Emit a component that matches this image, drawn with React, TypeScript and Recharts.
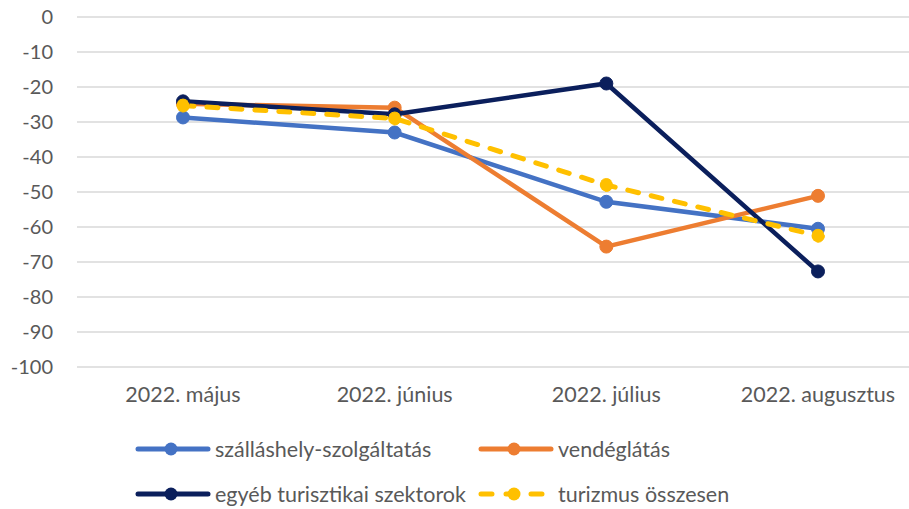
import { LineChart, Line, XAxis, YAxis, CartesianGrid } from 'recharts';

const months = ['2022. május', '2022. június', '2022. július', '2022. augusztus'];
const szallas = [-28.7, -33, -52.8, -60.5];
const vendeglatas = [-24.8, -25.9, -65.6, -51.1];
const egyeb = [-24.1, -27.8, -19, -72.7];
const turizmus = [-25.3, -29, -48, -62.5];
const yTicks = [0, -10, -20, -30, -40, -50, -60, -70, -80, -90, -100];

const series = [
  { key: 'szallas', name: 'szálláshely-szolgáltatás', color: '#4472C4', dashed: false },
  { key: 'vendeglatas', name: 'vendéglátás', color: '#ED7D31', dashed: false },
  { key: 'egyeb', name: 'egyéb turisztikai szektorok', color: '#0B1F5C', dashed: false },
  { key: 'turizmus', name: 'turizmus összesen', color: '#FFC000', dashed: true },
];

const data = months.map((month, i) => ({
  month,
  szallas: szallas[i],
  vendeglatas: vendeglatas[i],
  egyeb: egyeb[i],
  turizmus: turizmus[i],
}));

const FONT = 'Lato, sans-serif';
const TEXT = '#595959';

function LegendItem({ s, x, y }: { s: (typeof series)[number]; x: number; y: number }) {
  return (
    <div style={{ position: 'absolute', left: x, top: y - 14, height: 28, display: 'flex', alignItems: 'center' }}>
      <svg width={76} height={24} style={{ marginRight: 4 }}>
        <line
          x1={3}
          x2={73}
          y1={12}
          y2={12}
          stroke={s.color}
          strokeWidth={5}
          strokeLinecap="round"
          strokeDasharray={s.dashed ? '11 14' : undefined}
        />
        <circle cx={36} cy={12} r={6.5} fill={s.color} />
      </svg>
      <span style={{ fontFamily: FONT, fontSize: 21.5, color: TEXT, whiteSpace: 'nowrap' }}>{s.name}</span>
    </div>
  );
}

export default function App() {
  return (
    <div style={{ position: 'absolute', left: 0, top: 0, width: 909, height: 509, overflow: 'hidden', background: '#fff' }}>
      <LineChart width={930} height={509} data={data} margin={{ top: 17, right: 6, bottom: 112, left: 0 }}>
        <CartesianGrid vertical={false} stroke="#D9D9D9" strokeWidth={1.5} />
        <XAxis
          dataKey="month"
          axisLine={false}
          tickLine={false}
          tickSize={0}
          tickMargin={20}
          height={30}
          padding={{ left: 106, right: 106 }}
          tick={{ fill: TEXT, fontSize: 21.5, fontFamily: FONT }}
        />
        <YAxis
          domain={[-100, 0]}
          ticks={yTicks}
          width={77}
          axisLine={false}
          tickLine={false}
          tickSize={0}
          tickMargin={24}
          interval={0}
          tick={{ fill: TEXT, fontSize: 20, fontFamily: FONT }}
        />
        {series.map((s) => (
          <Line
            key={s.key}
            dataKey={s.key}
            name={s.name}
            type="linear"
            stroke={s.color}
            strokeWidth={s.dashed ? 5 : 4.5}
            strokeDasharray={s.dashed ? '11 13' : undefined}
            strokeLinecap={s.dashed ? 'round' : 'butt'}
            dot={{ r: 6.5, fill: s.color, stroke: s.color, strokeWidth: 1 }}
            isAnimationActive={false}
          />
        ))}
      </LineChart>
      <LegendItem s={series[0]} x={135} y={449} />
      <LegendItem s={series[1]} x={478} y={449} />
      <LegendItem s={series[2]} x={135} y={494} />
      <LegendItem s={series[3]} x={478} y={494} />
    </div>
  );
}
